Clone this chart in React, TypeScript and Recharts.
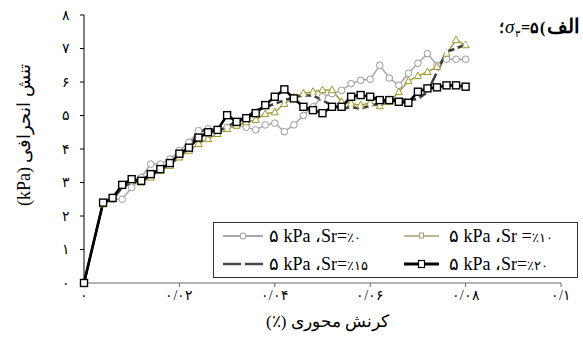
import React from 'react';
import { LineChart, Line, XAxis, YAxis, Legend, Label } from 'recharts';

// axial strain (fraction)
const strain = [0, 0.004, 0.006, 0.008, 0.01, 0.012, 0.014, 0.016, 0.018, 0.02,
  0.022, 0.024, 0.026, 0.028, 0.03, 0.032, 0.034, 0.036, 0.038, 0.04,
  0.042, 0.044, 0.046, 0.048, 0.05, 0.052, 0.054, 0.056, 0.058, 0.06,
  0.062, 0.064, 0.066, 0.068, 0.07, 0.072, 0.074, 0.076, 0.078, 0.08];

// deviator stress (kPa)
const sr0 = [0, 2.4, 2.5, 2.5, 2.85, 3.15, 3.55, 3.55, 3.7, 3.95,
  4.2, 4.55, 4.6, 4.55, 4.65, 4.7, 4.65, 4.57, 4.72, 4.77,
  4.52, 4.72, 5.0, 5.26, 5.56, 5.65, 5.75, 5.95, 6.05, 6.08,
  6.5, 6.12, 5.9, 6.26, 6.56, 6.85, 6.5, 6.68, 6.68, 6.68];
const sr10 = [0, 2.35, 2.5, 2.9, 3.05, 3.0, 3.15, 3.35, 3.5, 3.75,
  3.95, 4.15, 4.3, 4.45, 4.6, 4.7, 4.8, 4.87, 5.05, 5.1,
  5.35, 5.55, 5.66, 5.71, 5.76, 5.76, 5.41, 5.36, 5.31, 5.38,
  5.28, 5.41, 5.7, 6.03, 6.18, 6.3, 6.45, 6.85, 7.25, 7.1];
const sr15 = [0, 2.4, 2.5, 2.85, 3.0, 3.05, 3.2, 3.4, 3.55, 3.8,
  4.05, 4.5, 4.6, 4.55, 4.65, 4.85, 4.95, 5.15, 5.25, 5.35,
  5.45, 5.55, 5.6, 5.6, 5.45, 5.3, 5.2, 5.25, 5.2, 5.3,
  5.35, 5.45, 5.5, 5.45, 5.5, 5.7, 6.3, 6.9, 7.0, 7.12];
const sr20 = [0, 2.4, 2.54, 2.93, 3.1, 3.05, 3.25, 3.4, 3.58, 3.86,
  4.04, 4.34, 4.5, 4.57, 5.01, 4.81, 4.92, 5.07, 5.31, 5.56,
  5.78, 5.51, 5.26, 5.16, 5.07, 5.26, 5.26, 5.56, 5.61, 5.56,
  5.46, 5.46, 5.41, 5.38, 5.71, 5.81, 5.84, 5.9, 5.9, 5.86];

const xTicks = [0, 0.02, 0.04, 0.06, 0.08, 0.1];
const yTicks = [0, 1, 2, 3, 4, 5, 6, 7, 8];

const seriesNames = ['۵ kPa ،Sr=', '۵ kPa ،Sr =', '۵ kPa ،Sr=', '۵ kPa ،Sr='];
const seriesPct = ['٪۰', '٪۱۰', '٪۱۵', '٪۲۰'];

const xTitle = 'کرنش محوری (٪)';
const yTitle = 'تنش انحرافی (kPa)';
// title pieces in visual (left-to-right) order
const titleParts = ['؛', 'σ', '۳', '=', '۵', '('];
const titleWord = 'الف';

const data = strain.map((x, i) => ({ x, a: sr0[i], b: sr10[i], c: sr15[i], d: sr20[i] }));

const fa = '۰۱۲۳۴۵۶۷۸۹';
const toFa = (s: string) => s.replace(/[0-9]/g, (d) => fa[+d]);
const fmtX = (v: number) => (v === 0 ? '۰' : toFa(String(+v.toFixed(2)).replace('.', '/')));
const fmtY = (v: number) => toFa(String(v));

const FONT = "'Liberation Serif', 'DejaVu Serif', serif";

const CircleDot = (p: any) =>
  p.cx == null ? null : (
    <circle key={p.key} cx={p.cx} cy={p.cy} r={3.3} fill="#fff" stroke="#9a9a9a" strokeWidth={1} />
  );
const TriDot = (p: any) =>
  p.cx == null ? null : (
    <path key={p.key}
      d={`M${p.cx},${p.cy - 4} L${p.cx + 3.6},${p.cy + 2.6} L${p.cx - 3.6},${p.cy + 2.6} Z`}
      fill="#fff" stroke="#a0962a" strokeWidth={1} />
  );
const SmallDot = (p: any) =>
  p.cx == null ? null : <circle key={p.key} cx={p.cx} cy={p.cy} r={2} fill="#fff" stroke="none" />;
const SquareDot = (p: any) =>
  p.cx == null ? null : (
    <rect key={p.key} x={p.cx - 3.5} y={p.cy - 3.5} width={7} height={7} fill="#fff" stroke="#000" strokeWidth={1.4} />
  );

const legendMarks = [
  { stroke: '#a8a8a8', w: 2, mark: (cx: number, cy: number) => <circle cx={cx} cy={cy} r={3} fill="#fff" stroke="#9a9a9a" strokeWidth={1} /> },
  { stroke: '#bdb694', w: 2, mark: (cx: number, cy: number) => <rect x={cx - 2} y={cy - 3} width={4} height={5} fill="#fff" stroke="#a8a070" strokeWidth={1} /> },
  { stroke: '#484848', w: 2.5, mark: (cx: number, cy: number) => <circle cx={cx} cy={cy} r={2} fill="#fff" /> },
  { stroke: '#000', w: 3, mark: (cx: number, cy: number) => <rect x={cx - 3} y={cy - 3.5} width={6} height={7} fill="#fff" stroke="#000" strokeWidth={1.2} /> },
];

const legendPos = [
  { lx: 9, lw: 40, tx: 55, ty: 13 },
  { lx: 190, lw: 35, tx: 235, ty: 13 },
  { lx: 9, lw: 40, tx: 55, ty: 41 },
  { lx: 190, lw: 35, tx: 235, ty: 41 },
];

const renderLegend = () => (
  <div style={{ position: 'relative', width: 365, height: 56, border: '1.5px solid #333', boxSizing: 'border-box', background: '#fff' }}>
    {legendMarks.map((m, i) => {
      const p = legendPos[i];
      return (
        <React.Fragment key={i}>
          <svg style={{ position: 'absolute', left: p.lx, top: p.ty - 7 }} width={p.lw} height={14}>
            <line x1={0} y1={7} x2={p.lw} y2={7} stroke={m.stroke} strokeWidth={m.w} />
            {m.mark(p.lw / 2, 7)}
          </svg>
          <div style={{ position: 'absolute', left: p.tx, top: p.ty - 11, height: 22, lineHeight: '22px', fontFamily: FONT, fontSize: 18, color: '#000', whiteSpace: 'nowrap', direction: 'ltr', unicodeBidi: 'bidi-override' }}>
            {seriesNames[i]}<span style={{ fontSize: 13 }}>{seriesPct[i]}</span>
          </div>
        </React.Fragment>
      );
    })}
  </div>
);

const titleX = [499, 505, 515, 521, 530, 540];
const titleSize = [16, 19, 10, 16, 16, 16];
const titleDy = [0, 0, 4, 0, 0, 0];

export default function App() {
  return (
    <div style={{ position: 'absolute', left: 0, top: 0, width: 583, height: 345, background: '#fff' }}>
      <LineChart width={583} height={345} data={data} margin={{ top: 15, right: 22, bottom: 32, left: 44 }}>
        <XAxis dataKey="x" type="number" domain={[0, 0.1]} ticks={xTicks} tickFormatter={fmtX}
          height={30} tickSize={4} tickMargin={3} interval={0}
          axisLine={{ stroke: '#666' }} tickLine={{ stroke: '#666' }}
          tick={{ fill: '#000', fontSize: 14, fontFamily: FONT }}>
          <Label content={(props: any) => {
            const vb = props.viewBox;
            return (
              <text x={vb.x + vb.width / 2 + 5} y={vb.y + 44} textAnchor="middle" direction="rtl"
                fontSize={17} fontFamily={FONT} fill="#000">{xTitle}</text>
            );
          }} />
        </XAxis>
        <YAxis type="number" domain={[0, 8]} ticks={yTicks} tickFormatter={fmtY} width={40}
          tickSize={4} tickMargin={10} interval={0}
          axisLine={{ stroke: '#000' }} tickLine={{ stroke: '#000' }}
          tick={{ fill: '#000', fontSize: 14, fontFamily: FONT }}>
          <Label content={() => (
            <text x={0} y={0} transform="translate(26,135) rotate(-90)" textAnchor="middle" direction="rtl"
              dominantBaseline="middle" fontSize={18} fontFamily={FONT} fill="#000">{yTitle}</text>
          )} />
        </YAxis>
        <Legend layout="horizontal" verticalAlign="middle" align="center" content={renderLegend}
          wrapperStyle={{ left: 213, top: 222, width: 365, height: 56 }} />
        <Line dataKey="a" name="Sr0" stroke="#a8a8a8" strokeWidth={1.5} dot={CircleDot} isAnimationActive={false} />
        <Line dataKey="b" name="Sr10" stroke="#a69d45" strokeWidth={1.5} dot={TriDot} isAnimationActive={false} />
        <Line dataKey="c" name="Sr15" stroke="#3a3a3a" strokeWidth={2.5} dot={SmallDot} isAnimationActive={false} />
        <Line dataKey="d" name="Sr20" stroke="#000" strokeWidth={2.6} dot={SquareDot} isAnimationActive={false} />
      </LineChart>
      <svg style={{ position: 'absolute', left: 0, top: 0, pointerEvents: 'none' }} width={583} height={345}>
        {titleParts.map((t, i) => (
          <text key={i} x={titleX[i]} y={33 + titleDy[i]} fontFamily={i === 5 ? "'Liberation Serif', serif" : FONT} fontSize={titleSize[i]}
            direction="ltr" style={{ unicodeBidi: 'bidi-override' }}
            fontStyle={i === 1 ? 'italic' : 'normal'} fontWeight={i === 1 || i === 2 ? 'normal' : 'bold'} fill="#000">{t}</text>
        ))}
        <text x={580} y={33} textAnchor="end" fontFamily={FONT} fontSize={20} fontWeight="bold" fill="#000">{titleWord}</text>
      </svg>
    </div>
  );
}
